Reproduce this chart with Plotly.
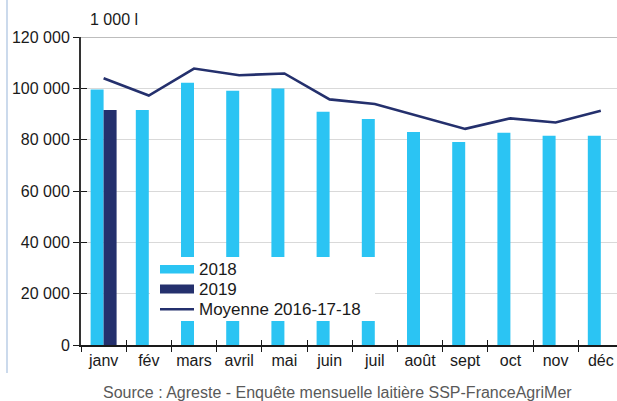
import plotly.graph_objects as go

# Monthly milk collection, thousand litres
months = ["janv", "fév", "mars", "avril", "mai", "juin", "juil", "août", "sept", "oct", "nov", "déc"]
collecte_2018 = [99500, 91600, 102200, 99100, 99900, 90900, 88100, 83000, 79100, 82700, 81500, 81500]
collecte_2019 = [91600, None, None, None, None, None, None, None, None, None, None, None]
moyenne_16_18 = [103900, 97200, 107700, 105100, 105800, 95700, 93900, 89000, 84200, 88300, 86700, 91300]
y_ticks = [0, 20000, 40000, 60000, 80000, 100000, 120000]
y_tick_text = ["0", "20 000", "40 000", "60 000", "80 000", "100 000", "120 000"]

W, H = 617, 401
L, R, T, B = 81, 0, 37, 56
PW, PH = W - L - R, H - T - B

CYAN = "#2bc4f3"
NAVY = "#24306d"
FONT = "Liberation Sans, Arial, sans-serif"


def px(x):
    return (x - L) / PW


def py(y):
    return (H - B - y) / PH


fig = go.Figure()
fig.add_trace(go.Bar(x=months, y=collecte_2018, name="2018", marker_color=CYAN,
                     marker_line_width=0, offsetgroup="a"))
fig.add_trace(go.Bar(x=months, y=collecte_2019, name="2019", marker_color=NAVY,
                     marker_line_width=0, offsetgroup="b"))
fig.add_trace(go.Scatter(x=months, y=moyenne_16_18, name="Moyenne 2016-17-18", mode="lines",
                         line=dict(color=NAVY, width=2.6)))
# companion axes carrying the inner half of the crossing tick marks
fig.add_trace(go.Scatter(x=months, y=[None] * 12, xaxis="x2", yaxis="y2",
                         showlegend=False, hoverinfo="skip"))

span = PW / 45.2
fig.update_layout(
    width=W, height=H,
    margin=dict(l=L, r=R, t=T, b=B, pad=0),
    paper_bgcolor="white", plot_bgcolor="white",
    barmode="group", bargap=0.425, bargroupgap=0,
    showlegend=False,
    font=dict(family=FONT, size=16, color="#1a1a1a"),
    xaxis=dict(type="category", categoryorder="array", categoryarray=months,
               range=[-0.5, -0.5 + span], tickson="boundaries",
               ticks="outside", ticklen=5, tickwidth=1.3, tickcolor="#1a1a1a",
               showline=True, linecolor="#1a1a1a", linewidth=1.5,
               showgrid=False, tickfont=dict(size=16)),
    yaxis=dict(range=[0, 120000], tickvals=y_ticks, ticktext=y_tick_text,
               ticks="outside", ticklen=6, tickwidth=1.3, tickcolor="#1a1a1a",
               showline=True, linecolor="#333333", linewidth=2,
               showgrid=True, gridcolor="#d9d9d9", gridwidth=1,
               zeroline=False, tickfont=dict(size=16)),
    xaxis2=dict(type="category", categoryorder="array", categoryarray=months,
                range=[-0.5, -0.5 + span], overlaying="x", side="bottom",
                tickson="boundaries", ticks="inside", ticklen=5, tickwidth=1.3,
                tickcolor="#1a1a1a", showticklabels=False, showgrid=False,
                showline=False),
    yaxis2=dict(range=[0, 120000], tickvals=y_ticks, overlaying="y", side="left",
                ticks="inside", ticklen=6, tickwidth=1.3, tickcolor="#1a1a1a",
                showticklabels=False, showgrid=False, showline=False, zeroline=False),
)

shapes = [
    # top border line of the plot area
    dict(type="line", xref="paper", yref="y", x0=0, x1=1, y0=120000, y1=120000,
         line=dict(color="#bdbdbd", width=2), layer="below"),
    # left frame edge
    dict(type="line", xref="paper", yref="paper", x0=px(7), x1=px(7), y0=py(0), y1=py(373),
         line=dict(color="#a9c1e0", width=1.2)),
    # legend panel
    dict(type="rect", xref="paper", yref="paper", x0=px(150), x1=px(375), y0=py(257), y1=py(321),
         fillcolor="white", line=dict(width=0), layer="above"),
    # legend swatches
    dict(type="rect", xref="paper", yref="paper", x0=px(160), x1=px(194), y0=py(265), y1=py(273.5),
         fillcolor=CYAN, line=dict(width=0), layer="above"),
    dict(type="rect", xref="paper", yref="paper", x0=px(160), x1=px(194), y0=py(284.5), y1=py(293.5),
         fillcolor=NAVY, line=dict(width=0), layer="above"),
    dict(type="line", xref="paper", yref="paper", x0=px(160), x1=px(194), y0=py(309.3), y1=py(309.3),
         line=dict(color=NAVY, width=2.6), layer="above"),
]
fig.update_layout(shapes=shapes)

annotations = [
    dict(text="2018", x=px(197), y=py(269.5)),
    dict(text="2019", x=px(197), y=py(289.5)),
    dict(text="Moyenne 2016-17-18", x=px(197), y=py(309.5)),
]
for a in annotations:
    a.update(xref="paper", yref="paper", xanchor="left", yanchor="middle",
             showarrow=False, font=dict(size=17, color="#1a1a1a"))
    fig.add_annotation(**a)

fig.add_annotation(text="1 000 l", xref="paper", yref="paper", x=px(88), y=py(20),
                   xanchor="left", yanchor="middle", showarrow=False,
                   font=dict(size=16, color="#1a1a1a"))
fig.add_annotation(text="Source : Agreste - Enquête mensuelle laitière SSP-FranceAgriMer",
                   xref="paper", yref="paper", x=px(337), y=py(392),
                   xanchor="center", yanchor="middle", showarrow=False,
                   font=dict(size=16, color="#595959"))

fig.write_html("out.html")
